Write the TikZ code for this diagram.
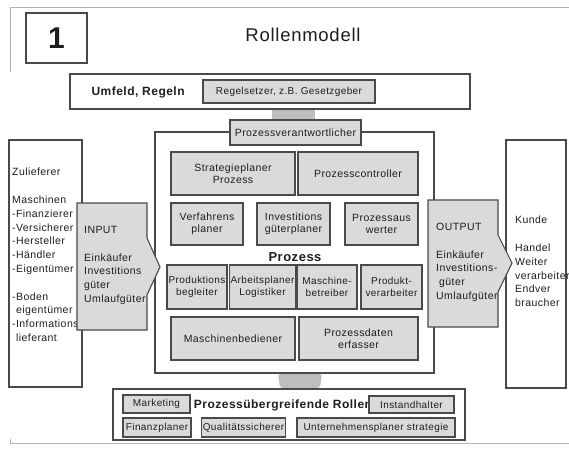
\documentclass[tikz,border=0pt]{standalone}
\usepackage{fontspec}
\setmainfont{Liberation Sans}[LetterSpace=4]
\usetikzlibrary{calc}
\definecolor{edge}{HTML}{4A4A4A}
\definecolor{shade}{HTML}{DADADA}
\definecolor{ink}{HTML}{1E1E1E}
\definecolor{rule}{HTML}{B4B4B4}
\definecolor{link}{HTML}{BEBEBE}
\begin{document}
\begin{tikzpicture}[x=1pt,y=-1pt,
  every node/.style={text=ink},
  role/.style={draw=edge,line width=1.1pt,fill=shade,align=center,inner sep=1pt,
    font=\fontsize{10.5}{12}\selectfont},
  panel/.style={draw=edge,line width=1.2pt,fill=white,inner sep=0pt},
  flow/.style={draw=edge,line width=1.1pt,fill=shade},
  list/.style={align=left,inner sep=0pt,anchor=north west,
    font=\fontsize{10.5}{13.8}\selectfont},
  heading/.style={font=\bfseries\fontsize{12}{14}\selectfont},
  small/.style={font=\fontsize{10}{11.5}\selectfont},
  wh/.style 2 args={minimum width=#1pt,minimum height=#2pt},
]
\useasboundingbox (0,0) rectangle (569,448);

% page frame
\draw[rule,line width=0.8pt] (10,72) -- (10,7) -- (569,7);
\draw[rule,line width=0.8pt] (10,439) -- (10,443) -- (569,443);

% heading
\node[draw=edge,line width=1.1pt,fill=white,wh={61}{50},
  font=\bfseries\fontsize{30}{32}\selectfont] (num) at (56.5,38) {1};
\node[font=\fontsize{18.5}{22}\selectfont] (title) at (303,35) {Rollenmodell};

% environment and rules
\node[panel,wh={400}{35}] (umfeld) at (270,91.5) {};
\node[heading,anchor=west] (umfeldlbl) at (88,92) {Umfeld, Regeln};
\node[role,small,wh={172}{23}] (regel) at (289,91.5) {Regelsetzer, z.B. Gesetzgeber};

% side panels and process frame
\node[panel,wh={73}{247}] (supply) at (45.5,263.5) {};
\node[panel,wh={60}{248}] (customer) at (536,264) {};
\node[panel,wh={279}{241}] (process) at (294.5,252.5) {};

\node[list] (supplytxt) at (12,168) {Zulieferer\\[13.8pt]Maschinen\\-Finanzierer\\-Versicherer\\-Hersteller\\-Händler\\-Eigentümer\\[13.8pt]-Boden\\\hspace{4pt}eigentümer\\-Informations\\\hspace{4pt}lieferant};
\node[list] (customertxt) at (515,216) {Kunde\\[13.8pt]Handel\\Weiter\\verarbeiter\\Endver\\braucher};

% link between rules and process owner
\node[role,wh={131}{25}] (pv) at (295.5,132.5) {Prozessverantwortlicher};
\fill[link] ($(pv.north)+(-23.5,-0.6)$) rectangle ($(pv.north |- umfeld.south)+(19.5,0.6)$);

% roles inside the process
\node[role,wh={124}{43}] (strat) at (233,173.5) {Strategieplaner\\Prozess};
\node[role,wh={120}{43}] (ctrl) at (358,173.5) {Prozesscontroller};
\node[role,wh={72}{42}] (verf) at (207,224) {Verfahrens\\planer};
\node[role,wh={73}{42}] (invest) at (293.5,224) {Investitions\\güterplaner};
\node[role,wh={73}{42}] (auswert) at (381.5,224) {Prozessaus\\werter};
\node[font=\bfseries\fontsize{13}{15}\selectfont] (prozlbl) at (295,257) {Prozess};
\node[role,small,wh={60}{44}] (begl) at (197,287) {Produktions\\begleiter};
\node[role,small,wh={61}{44}] (arbeit) at (262.5,287) {Arbeitsplaner\\Logistiker};
\node[role,small,wh={60}{44}] (betreib) at (327,287) {Maschine-\\betreiber};
\node[role,small,wh={61}{44}] (verarb) at (391.5,287) {Produkt-\\verarbeiter};
\node[role,wh={124}{43}] (bedien) at (233,338.5) {Maschinenbediener};
\node[role,wh={119}{43}] (daten) at (358.5,338.5) {Prozessdaten\\erfasser};

% input and output arrows
\draw[flow] (77,203) -- (147,203) -- (147,238) -- (160,267) -- (147,295) -- (147,330) -- (77,330) -- cycle;
\node[list] (inputtxt) at (84,226) {INPUT\\[13.8pt]Einkäufer\\Investitions\\güter\\Umlaufgüter};
\draw[flow] (428,200) -- (498,200) -- (498,235) -- (512,263) -- (498,292) -- (498,327) -- (428,327) -- cycle;
\node[list] (outputtxt) at (436,223) {OUTPUT\\[13.8pt]Einkäufer\\Investitions-\\\hspace{3pt}güter\\Umlaufgüter};

% cross-process roles
\node[panel,wh={352}{51}] (roles) at (289,414.5) {};
\fill[link,rounded corners=2pt] ($(process.south)+(-16.5,0.6)$) -- ($(process.south)+(27.5,0.6)$)
  -- ($(roles.north)+(31,-0.6)$) -- ($(roles.north)+(-9,-0.6)$) -- cycle;
\node[role,small,wh={67}{18}] (mkt) at (156.5,404) {Marketing};
\node[heading] (rollenlbl) at (283,405) {Prozessübergreifende Rollen};
\node[role,small,wh={85}{17}] (instand) at (411.5,404.5) {Instandhalter};
\node[role,small,wh={68}{19}] (fin) at (157,427.5) {Finanzplaner};
\node[role,small,wh={83}{19}] (qual) at (243.5,427.5) {Qualitätssicherer};
\node[role,small,wh={158}{19}] (untern) at (376,427.5) {Unternehmensplaner strategie};
\end{tikzpicture}
\end{document}
